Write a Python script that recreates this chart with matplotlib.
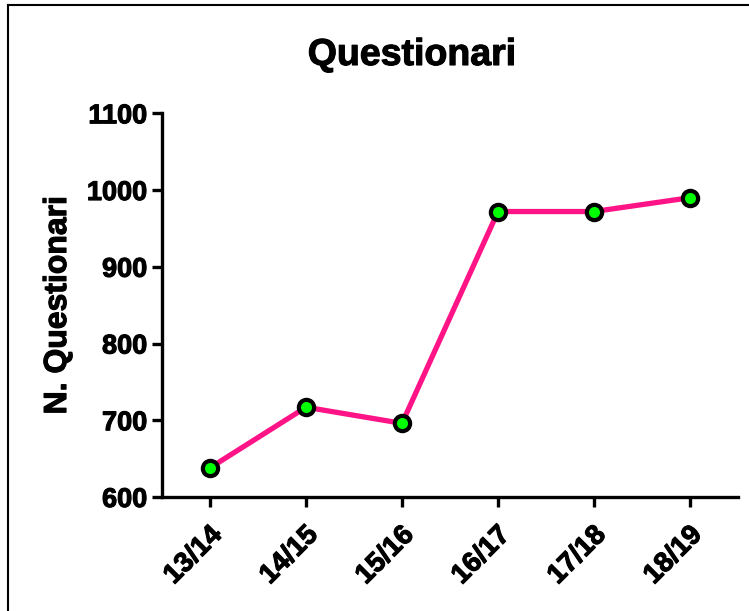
import matplotlib
matplotlib.use("Agg")
import matplotlib.pyplot as plt
from matplotlib.lines import Line2D
from matplotlib.transforms import ScaledTranslation
import matplotlib.patheffects as pe

plt.rcParams['font.family'] = ['Liberation Sans', 'DejaVu Sans']
plt.rcParams['font.weight'] = 'bold'

years = ['13/14', '14/15', '15/16', '16/17', '17/18', '18/19']
questionari = [638, 717, 696, 972, 972, 990]
yticks = [600, 700, 800, 900, 1000, 1100]

W, H = 749, 611
fig = plt.figure(figsize=(W / 100, H / 100), dpi=100)
ax = fig.add_axes([162 / W, 1 - 497 / H, (738 - 162) / W, (497 - 113.3) / H])

x = range(len(years))
ax.plot(x, questionari, color='#FF1488', lw=3.8, marker='o', ms=11,
        mfc='#00FF00', mec='black', mew=3, zorder=3)

ax.set_xlim(-0.5, 5.5)
ax.set_ylim(600, 1100)
ax.set_yticks(yticks)
ax.set_xticks(list(x))
ax.set_xticklabels(years, rotation=45, ha='right', va='center',
                   rotation_mode='anchor')

for s in ['top', 'right']:
    ax.spines[s].set_visible(False)
for s in ['left', 'bottom']:
    ax.spines[s].set_linewidth(2.4)
ax.tick_params(width=2.4, length=7.5, pad=3)
ax.tick_params(axis='y', labelsize=19.5)
ax.tick_params(axis='x', labelsize=20, pad=17)

# nudge the rotated labels a bit to the right
shift = ScaledTranslation(8 / 100, 0, fig.dpi_scale_trans)
thick = [pe.withStroke(linewidth=0.8, foreground='black')]
for lab in ax.get_xticklabels():
    lab.set_transform(lab.get_transform() + shift)
for lab in ax.get_xticklabels() + ax.get_yticklabels():
    lab.set_fontweight('bold')
    lab.set_path_effects(thick)

ax.set_ylabel('N. Questionari', fontsize=23, fontweight='bold', labelpad=10,
              path_effects=thick)
fig.text(412 / W, 1 - 55 / H, 'Questionari', fontsize=27, fontweight='bold',
         ha='center', va='center', path_effects=thick)

# frame around the figure (only left and top edge visible)
fig.add_artist(Line2D([8 / W, 8 / W], [0, 1 - 5 / H], transform=fig.transFigure,
                      color='black', lw=1.5))
fig.add_artist(Line2D([8 / W, 1], [1 - 5 / H, 1 - 5 / H], transform=fig.transFigure,
                      color='black', lw=1.5))

fig.savefig('out.png', dpi=100)
